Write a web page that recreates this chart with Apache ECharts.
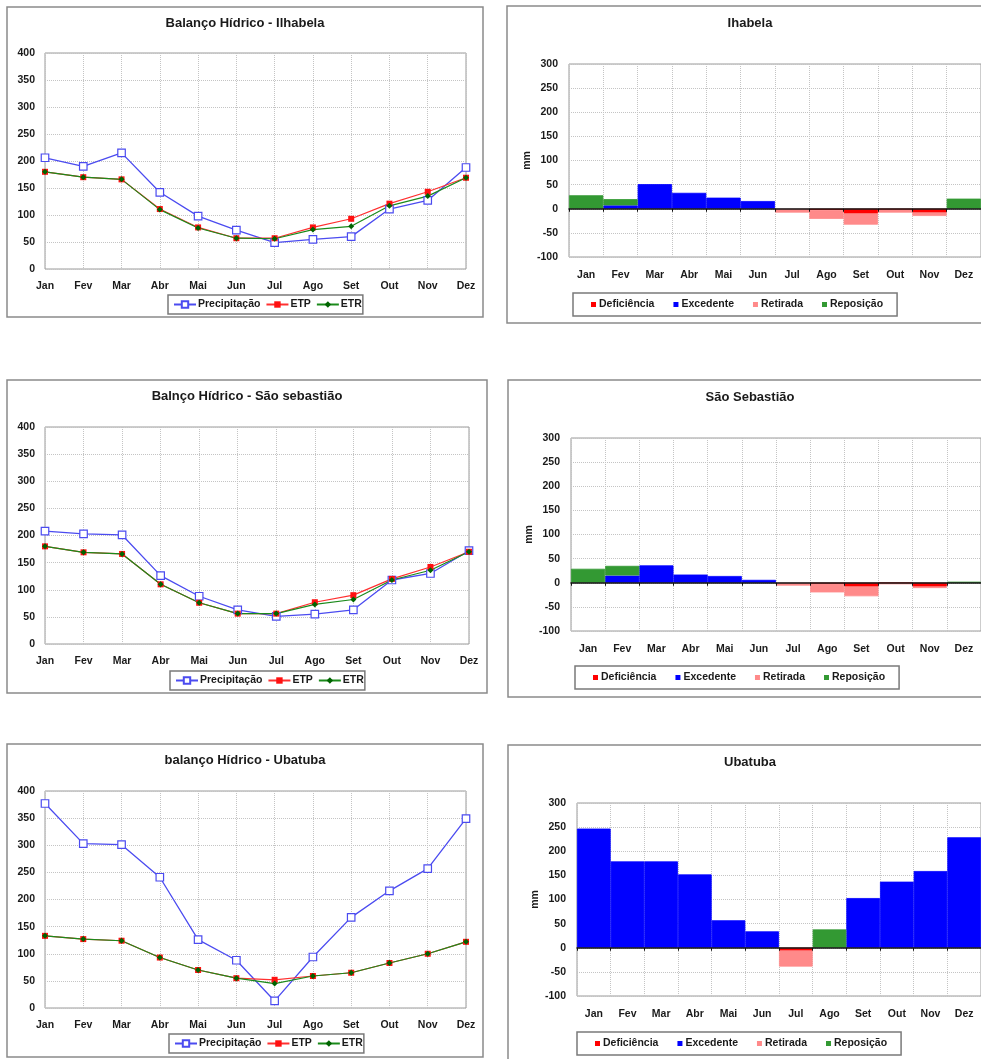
<!DOCTYPE html>
<html>
<head>
<meta charset="utf-8">
<title>Balanço Hídrico - Litoral Norte</title>
<script src="https://cdn.jsdelivr.net/npm/echarts@6/dist/echarts.min.js"></script>
<style>
  html, body { margin: 0; padding: 0; background: #fff; overflow: hidden; }
  #painel { width: 981px; height: 1059px; }
</style>
</head>
<body>
<div id="painel"></div>
<script>
// Meses do ano
const meses = ['Jan', 'Fev', 'Mar', 'Abr', 'Mai', 'Jun', 'Jul', 'Ago', 'Set', 'Out', 'Nov', 'Dez'];

// Ilhabela (mm)
const precIlhabela = [206, 190, 215, 142, 98, 72, 49, 55, 60, 111, 127, 188];
const etpIlhabela  = [180, 170, 166, 111, 77, 57, 57, 77, 93, 121, 143, 169];
const etrIlhabela  = [180, 170, 166, 110, 76, 57, 56, 73, 79, 117, 135, 169];
const defIlhabela  = [0, 0, 0, 0, 0, 0, 0, -3, -10, -2, -8, 0];
const excIlhabela  = [0, 7, 51, 33, 23, 16, 0, 0, 0, 0, 0, 0];
const retIlhabela  = [0, 0, 0, 0, 0, 0, -8, -18, -23, -6, -7, 0];
const repIlhabela  = [28, 13, 0, 0, 0, 0, 0, 0, 0, 0, 0, 21];

// São Sebastião (mm)
const precSaoSeb = [208, 203, 201, 126, 88, 63, 51, 55, 63, 118, 130, 172];
const etpSaoSeb  = [180, 169, 166, 110, 76, 56, 56, 77, 90, 120, 142, 170];
const etrSaoSeb  = [180, 169, 166, 110, 76, 56, 56, 73, 82, 118, 136, 170];
const defSaoSeb  = [0, 0, 0, 0, 0, 0, 0, -2, -8, -1, -8, 0];
const excSaoSeb  = [0, 15, 36, 17, 14, 6, 0, 0, 0, 0, 0, 0];
const retSaoSeb  = [0, 0, 0, 0, 0, 0, -6, -18, -20, -2, -3, 0];
const repSaoSeb  = [29, 20, 0, 0, 0, 0, 0, 0, 0, 0, 0, 2];

// Ubatuba (mm)
const precUbatuba = [377, 303, 301, 241, 126, 88, 13, 94, 167, 216, 257, 349];
const etpUbatuba  = [133, 127, 124, 93, 70, 55, 52, 59, 65, 83, 100, 122];
const etrUbatuba  = [133, 127, 124, 93, 70, 55, 45, 59, 65, 83, 100, 122];
const defUbatuba  = [0, 0, 0, 0, 0, 0, -6, 0, 0, 0, 0, 0];
const excUbatuba  = [247, 179, 179, 152, 57, 34, 0, 0, 103, 137, 159, 229];
const retUbatuba  = [0, 0, 0, 0, 0, 0, -33, 0, 0, 0, 0, 0];
const repUbatuba  = [0, 0, 0, 0, 0, 0, 0, 38, 0, 0, 0, 0];

const fonte = "'Liberation Sans', Arial, sans-serif";
const corTexto = '#1a1a1a';
const corGrade = '#c4c4c4';
const corMoldura = '#8a8a8a';

const rotulo = { fontFamily: fonte, fontSize: 10.5, fontWeight: 'bold', color: corTexto };

const option = {
  animation: false,
  backgroundColor: '#fff',
  grid: [],
  xAxis: [],
  yAxis: [],
  series: [],
  legend: [],
  graphic: []
};

function moldura(x, y, w, h) {
  option.graphic.push({
    type: 'rect', shape: { x: x, y: y, width: w, height: h },
    style: { fill: null, stroke: corMoldura, lineWidth: 1.5 }, z: -1
  });
}

function titulo(texto, cx, cy) {
  option.graphic.push({
    type: 'text', x: cx, y: cy,
    style: {
      text: texto, fill: corTexto, align: 'center', verticalAlign: 'middle',
      font: 'bold 13px ' + fonte
    }
  });
}

// Gráfico de linhas: precipitação, ETP e ETR
function graficoLinhas(g, prec, etp, etr, leg) {
  const gi = option.grid.length;
  option.grid.push({ left: g.left, top: g.top, width: g.width, height: g.height,
    show: true, borderColor: '#9a9a9a', borderWidth: 1, backgroundColor: 'transparent' });
  const xi = option.xAxis.length;
  option.xAxis.push({
    gridIndex: gi, type: 'category', data: meses, boundaryGap: false,
    axisLine: { show: false }, axisTick: { show: false },
    axisLabel: Object.assign({ margin: 12 }, rotulo),
    splitLine: { show: true, lineStyle: { color: corGrade, type: 'dotted', width: 1 } }
  });
  const yi = option.yAxis.length;
  option.yAxis.push({
    gridIndex: gi, type: 'value', min: 0, max: 400, interval: 50,
    axisLine: { show: false }, axisTick: { show: false },
    axisLabel: Object.assign({ margin: 10 }, rotulo),
    splitLine: { show: true, lineStyle: { color: corGrade, type: 'dotted', width: 1 } }
  });
  option.series.push({
    name: 'Precipitação', type: 'line', xAxisIndex: xi, yAxisIndex: yi, data: prec,
    symbol: 'rect', symbolSize: 7.5,
    itemStyle: { color: '#ffffff', borderColor: '#4b4bf0', borderWidth: 1.2 },
    lineStyle: { color: '#4b4bf0', width: 1.3 }
  });
  option.series.push({
    name: 'ETP', type: 'line', xAxisIndex: xi, yAxisIndex: yi, data: etp,
    symbol: 'rect', symbolSize: 6,
    itemStyle: { color: '#ff1010' },
    lineStyle: { color: '#ff3030', width: 1.2 }
  });
  option.series.push({
    name: 'ETR', type: 'line', xAxisIndex: xi, yAxisIndex: yi, data: etr,
    symbol: 'diamond', symbolSize: 6,
    itemStyle: { color: '#006400' },
    lineStyle: { color: '#1a8a1a', width: 1.2 }
  });
  option.legend.push({
    left: leg.left, top: leg.top, orient: 'horizontal',
    data: ['Precipitação', 'ETP', 'ETR'],
    itemWidth: 22, itemHeight: 8, itemGap: 5,
    padding: [4, 1, 4, 5],
    borderColor: '#7a7a7a', borderWidth: 1.5,
    textStyle: Object.assign({ padding: [0, 0, 0, -3] }, rotulo),
    selectedMode: false
  });
}

// meses sem valor ficam vazios na pilha
const semZero = (arr) => arr.map(v => (v === 0 ? '-' : v));

// Gráfico de barras: deficiência, excedente, retirada e reposição
function graficoBarras(g, def, exc, ret, rep, leg) {
  const gi = option.grid.length;
  option.grid.push({ left: g.left, top: g.top, width: g.width, height: g.height,
    show: true, borderColor: '#9a9a9a', borderWidth: 1, backgroundColor: 'transparent' });
  const xi = option.xAxis.length;
  // eixo que cruza o zero (linha e marcas), acima das barras
  option.xAxis.push({
    gridIndex: gi, type: 'category', data: meses, boundaryGap: true,
    axisLine: { show: true, onZero: true, lineStyle: { color: '#111', width: 1.5 } },
    axisTick: { show: true, length: 3, lineStyle: { color: '#111' } },
    axisLabel: { show: false },
    splitLine: { show: false },
    z: 5
  });
  // rótulos dos meses na base e linhas verticais da grade, atrás das barras
  option.xAxis.push({
    gridIndex: gi, type: 'category', data: meses, boundaryGap: true, position: 'bottom',
    axisLine: { show: false, onZero: false }, axisTick: { show: false },
    axisLabel: Object.assign({ margin: 13 }, rotulo),
    splitLine: { show: true, lineStyle: { color: corGrade, type: 'dotted', width: 1 } },
    z: 0
  });
  const yi = option.yAxis.length;
  option.yAxis.push({
    gridIndex: gi, type: 'value', min: -100, max: 300, interval: 50,
    name: 'mm', nameLocation: 'middle', nameGap: 27, nameRotate: 90,
    nameTextStyle: rotulo,
    axisLine: { show: false }, axisTick: { show: false },
    axisLabel: Object.assign({ margin: 11 }, rotulo),
    splitLine: { show: true, lineStyle: { color: corGrade, type: 'dotted', width: 1 } },
    z: 0
  });
  const pilha = 'balanco' + gi;
  const base = { type: 'bar', xAxisIndex: xi, yAxisIndex: yi, stack: pilha,
    barCategoryGap: '0%', barGap: '0%', z: 2 };
  // borda da mesma cor para fechar as frestas entre barras vizinhas
  const estilo = (cor) => ({ color: cor, borderColor: cor, borderWidth: 0.8 });
  option.series.push(Object.assign({ name: 'Deficiência', data: semZero(def), itemStyle: estilo('#ff0000') }, base));
  option.series.push(Object.assign({ name: 'Excedente', data: semZero(exc), itemStyle: estilo('#0000ff') }, base));
  option.series.push(Object.assign({ name: 'Retirada', data: semZero(ret), itemStyle: estilo('#ff8a8a') }, base));
  option.series.push(Object.assign({ name: 'Reposição', data: semZero(rep), itemStyle: estilo('#339933') }, base));
  option.legend.push({
    left: leg.left, top: leg.top, orient: 'horizontal',
    data: ['Deficiência', 'Excedente', 'Retirada', 'Reposição'],
    icon: 'rect', itemWidth: 5, itemHeight: 5, itemGap: 19,
    itemStyle: { borderWidth: 0 },
    padding: [6, 14, 6, 18],
    borderColor: '#7a7a7a', borderWidth: 1.5,
    textStyle: Object.assign({ padding: [0, 0, 0, -2] }, rotulo),
    selectedMode: false
  });
}

// Molduras dos seis painéis
moldura(7, 7, 476, 310);
moldura(507, 6, 490, 317);
moldura(7, 380, 480, 313);
moldura(508, 380, 490, 317);
moldura(7, 744, 476, 313);
moldura(508, 745, 490, 330);

// Títulos
titulo('Balanço Hídrico - Ilhabela', 245, 23);
titulo('Ihabela', 750, 23);
titulo('Balnço Hídrico - São sebastião', 247, 396);
titulo('São Sebastião', 750, 397);
titulo('balanço Hídrico - Ubatuba', 245, 760);
titulo('Ubatuba', 750, 762);

graficoLinhas({ left: 45, top: 53, width: 421, height: 216 },
  precIlhabela, etpIlhabela, etrIlhabela, { left: 168, top: 295 });
graficoBarras({ left: 569, top: 64, width: 414, height: 193 },
  defIlhabela, excIlhabela, retIlhabela, repIlhabela, { left: 573, top: 293 });
graficoLinhas({ left: 45, top: 427, width: 424, height: 217 },
  precSaoSeb, etpSaoSeb, etrSaoSeb, { left: 170, top: 671 });
graficoBarras({ left: 571, top: 438, width: 413, height: 193 },
  defSaoSeb, excSaoSeb, retSaoSeb, repSaoSeb, { left: 575, top: 666 });
graficoLinhas({ left: 45, top: 791, width: 421, height: 217 },
  precUbatuba, etpUbatuba, etrUbatuba, { left: 169, top: 1034 });
graficoBarras({ left: 577, top: 803, width: 406, height: 193 },
  defUbatuba, excUbatuba, retUbatuba, repUbatuba, { left: 577, top: 1032 });

const chart = echarts.init(document.getElementById('painel'), null, { renderer: 'canvas' });
chart.setOption(option);
</script>
</body>
</html>
